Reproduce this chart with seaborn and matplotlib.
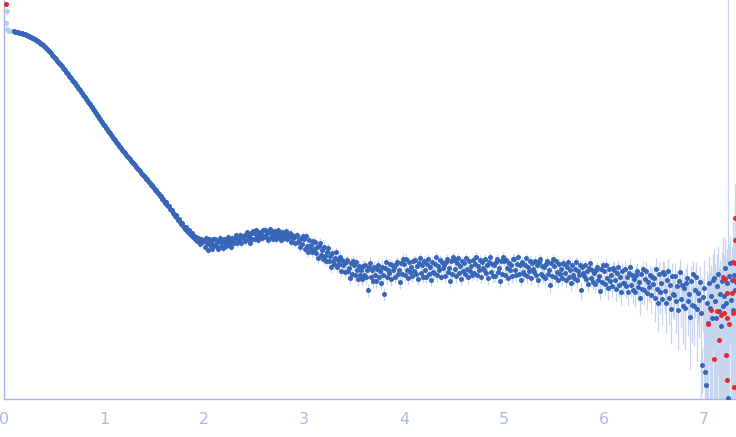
import numpy as np
import pandas as pd
import matplotlib
matplotlib.use("Agg")
import matplotlib.pyplot as plt
import seaborn as sns
from matplotlib.ticker import FixedLocator, NullLocator, NullFormatter

# measured q grid (instrument bins, 0.01 apart from 0.10 to 7.32)
q = np.round(np.arange(10, 733) * 0.01, 2)

# log10 of intensity, one row per 0.1 of q
log_i = [
    -0.01, -0.02, -0.02, -0.02, -0.02, -0.03, -0.03, -0.03, -0.03, -0.04,
    -0.04, -0.04, -0.05, -0.05, -0.06, -0.06, -0.07, -0.07, -0.08, -0.08,
    -0.09, -0.09, -0.10, -0.11, -0.11, -0.12, -0.13, -0.14, -0.14, -0.15,
    -0.16, -0.17, -0.18, -0.19, -0.20, -0.21, -0.22, -0.23, -0.25, -0.26,
    -0.27, -0.28, -0.29, -0.31, -0.32, -0.33, -0.34, -0.35, -0.36, -0.38,
    -0.39, -0.40, -0.42, -0.43, -0.44, -0.46, -0.47, -0.48, -0.50, -0.51,
    -0.52, -0.53, -0.55, -0.56, -0.58, -0.59, -0.60, -0.62, -0.63, -0.65,
    -0.66, -0.67, -0.69, -0.70, -0.72, -0.73, -0.74, -0.76, -0.77, -0.79,
    -0.80, -0.82, -0.83, -0.85, -0.86, -0.88, -0.89, -0.91, -0.92, -0.94,
    -0.95, -0.96, -0.98, -0.99, -1.01, -1.02, -1.03, -1.05, -1.06, -1.08,
    -1.09, -1.10, -1.12, -1.13, -1.14, -1.16, -1.17, -1.18, -1.20, -1.21,
    -1.22, -1.23, -1.25, -1.26, -1.27, -1.28, -1.29, -1.31, -1.32, -1.33,
    -1.34, -1.35, -1.37, -1.38, -1.39, -1.40, -1.41, -1.43, -1.44, -1.45,
    -1.46, -1.47, -1.49, -1.49, -1.51, -1.52, -1.53, -1.55, -1.55, -1.57,
    -1.58, -1.60, -1.60, -1.62, -1.63, -1.64, -1.66, -1.66, -1.69, -1.69,
    -1.71, -1.73, -1.72, -1.75, -1.76, -1.76, -1.79, -1.80, -1.80, -1.83,
    -1.84, -1.86, -1.85, -1.88, -1.90, -1.89, -1.92, -1.94, -1.93, -1.96,
    -1.97, -1.99, -1.97, -2.01, -2.02, -2.00, -2.04, -2.05, -2.03, -2.07,
    -2.06, -2.09, -2.07, -2.11, -2.08, -2.10, -2.14, -2.09, -2.12, -2.11,
    -2.10, -2.17, -2.08, -2.13, -2.20, -2.09, -2.15, -2.12, -2.19, -2.09,
    -2.15, -2.09, -2.16, -2.12, -2.19, -2.11, -2.08, -2.16, -2.12, -2.18,
    -2.09, -2.13, -2.16, -2.10, -2.07, -2.14, -2.11, -2.17, -2.08, -2.12,
    -2.13, -2.08, -2.05, -2.13, -2.09, -2.10, -2.05, -2.13, -2.06, -2.08,
    -2.06, -2.11, -2.04, -2.02, -2.09, -2.06, -2.13, -2.03, -2.09, -2.01,
    -2.03, -2.09, -2.00, -2.06, -2.10, -2.02, -2.07, -2.04, -2.08, -2.00,
    -2.06, -2.00, -2.07, -2.03, -2.10, -2.02, -1.99, -2.07, -2.03, -2.09,
    -2.01, -2.05, -2.09, -2.02, -2.00, -2.07, -2.04, -2.10, -2.02, -2.07,
    -2.08, -2.04, -2.01, -2.09, -2.06, -2.07, -2.03, -2.12, -2.05, -2.08,
    -2.07, -2.13, -2.06, -2.05, -2.12, -2.10, -2.17, -2.08, -2.14, -2.06,
    -2.09, -2.19, -2.06, -2.16, -2.22, -2.10, -2.18, -2.15, -2.22, -2.11,
    -2.19, -2.12, -2.23, -2.17, -2.28, -2.16, -2.13, -2.25, -2.20, -2.29,
    -2.17, -2.26, -2.31, -2.22, -2.18, -2.31, -2.26, -2.37, -2.23, -2.31,
    -2.34, -2.28, -2.22, -2.37, -2.30, -2.34, -2.27, -2.41, -2.30, -2.35,
    -2.33, -2.42, -2.32, -2.30, -2.41, -2.38, -2.48, -2.33, -2.44, -2.31,
    -2.35, -2.45, -2.32, -2.40, -2.49, -2.36, -2.45, -2.40, -2.49, -2.36,
    -2.45, -2.35, -2.47, -2.40, -2.60, -2.37, -2.33, -2.47, -2.40, -2.51,
    -2.37, -2.45, -2.51, -2.39, -2.35, -2.47, -2.41, -2.53, -2.37, -2.45,
    -2.64, -2.38, -2.32, -2.47, -2.40, -2.43, -2.34, -2.49, -2.35, -2.40,
    -2.37, -2.47, -2.34, -2.32, -2.44, -2.40, -2.52, -2.33, -2.44, -2.29,
    -2.34, -2.45, -2.29, -2.40, -2.48, -2.32, -2.42, -2.37, -2.46, -2.31,
    -2.41, -2.30, -2.44, -2.36, -2.49, -2.33, -2.28, -2.43, -2.35, -2.47,
    -2.31, -2.40, -2.47, -2.34, -2.29, -2.44, -2.37, -2.50, -2.32, -2.42,
    -2.43, -2.34, -2.27, -2.45, -2.36, -2.40, -2.30, -2.47, -2.32, -2.38,
    -2.35, -2.46, -2.32, -2.29, -2.42, -2.38, -2.51, -2.31, -2.44, -2.27,
    -2.30, -2.39, -2.46, -2.33, -2.28, -2.43, -2.36, -2.49, -2.31, -2.41,
    -2.33, -2.44, -2.28, -2.39, -2.47, -2.31, -2.41, -2.36, -2.45, -2.30,
    -2.43, -2.34, -2.27, -2.45, -2.36, -2.40, -2.30, -2.47, -2.32, -2.38,
    -2.40, -2.29, -2.43, -2.35, -2.48, -2.32, -2.27, -2.42, -2.34, -2.46,
    -2.35, -2.46, -2.32, -2.29, -2.42, -2.38, -2.51, -2.31, -2.44, -2.27,
    -2.31, -2.45, -2.30, -2.38, -2.48, -2.33, -2.40, -2.35, -2.46, -2.29,
    -2.29, -2.40, -2.45, -2.34, -2.27, -2.44, -2.35, -2.50, -2.32, -2.42,
    -2.44, -2.35, -2.28, -2.46, -2.37, -2.41, -2.31, -2.48, -2.33, -2.39,
    -2.42, -2.31, -2.45, -2.35, -2.50, -2.32, -2.29, -2.44, -2.36, -2.46,
    -2.37, -2.48, -2.34, -2.31, -2.44, -2.40, -2.55, -2.33, -2.46, -2.29,
    -2.36, -2.47, -2.31, -2.42, -2.50, -2.34, -2.44, -2.39, -2.48, -2.33,
    -2.34, -2.43, -2.50, -2.37, -2.32, -2.47, -2.40, -2.53, -2.35, -2.45,
    -2.48, -2.39, -2.32, -2.50, -2.41, -2.45, -2.35, -2.60, -2.37, -2.43,
    -2.46, -2.35, -2.49, -2.41, -2.54, -2.38, -2.33, -2.48, -2.40, -2.52,
    -2.43, -2.54, -2.40, -2.37, -2.50, -2.46, -2.61, -2.39, -2.52, -2.35,
    -2.41, -2.54, -2.35, -2.48, -2.58, -2.39, -2.51, -2.45, -2.56, -2.38,
    -2.40, -2.50, -2.59, -2.43, -2.37, -2.55, -2.47, -2.62, -2.41, -2.53,
    -2.53, -2.39, -2.56, -2.47, -2.62, -2.43, -2.37, -2.55, -2.45, -2.60,
    -2.49, -2.62, -2.45, -2.41, -2.57, -2.52, -2.68, -2.44, -2.59, -2.39,
    -2.60, -2.49, -2.41, -2.63, -2.52, -2.57, -2.45, -2.65, -2.47, -2.54,
    -2.48, -2.68, -2.39, -2.59, -2.73, -2.44, -2.62, -2.53, -2.69, -2.42,
    -2.44, -2.61, -2.73, -2.50, -2.41, -2.68, -2.55, -2.79, -2.46, -2.64,
    -2.65, -2.46, -2.71, -2.56, -2.80, -2.51, -2.42, -2.69, -2.55, -2.76,
    -2.58, -2.78, -2.53, -2.48, -2.71, -2.64, -2.87, -2.51, -2.75, -2.44,
    -2.76, -2.60, -2.47, -2.79, -2.63, -2.70, -2.52, -2.83, -3.35, -2.67,
    -2.58, -3.42, -3.55, -2.73, -2.93, -2.53, -2.78, -2.66, -2.88, -2.50,
    -2.48, -2.71, -2.88, -2.56, -2.44, -2.81, -2.64, -2.96, -2.51, -2.76,
    -2.66, -2.38, -2.73, -2.53, -3.68, -2.46, -2.33, -2.70, -2.50, -2.80,
    -2.45, -2.60, -2.52,
]

# relative error of each point, percent
err_pct = [
    1, 1, 1, 1, 1, 1, 1, 1, 1, 1,
    1, 1, 1, 1, 1, 1, 1, 1, 1, 1,
    1, 1, 1, 1, 1, 1, 1, 1, 1, 1,
    1, 1, 1, 1, 1, 1, 1, 1, 1, 1,
    1, 1, 1, 1, 1, 1, 1, 1, 1, 1,
    1, 1, 1, 1, 1, 1, 1, 1, 1, 1,
    1, 1, 1, 1, 1, 1, 1, 1, 1, 1,
    1, 1, 1, 1, 1, 1, 1, 1, 1, 1,
    1, 1, 1, 1, 1, 1, 1, 1, 1, 1,
    1, 1, 1, 1, 1, 2, 2, 2, 2, 2,
    2, 2, 2, 2, 2, 2, 2, 2, 2, 2,
    2, 2, 2, 2, 2, 2, 2, 2, 2, 2,
    2, 2, 2, 2, 2, 2, 2, 2, 2, 2,
    2, 2, 2, 3, 2, 3, 3, 3, 3, 3,
    3, 3, 3, 3, 3, 3, 3, 3, 3, 3,
    3, 4, 3, 4, 4, 3, 4, 4, 4, 4,
    4, 5, 4, 5, 5, 4, 5, 5, 5, 5,
    5, 6, 5, 6, 6, 5, 6, 6, 6, 6,
    6, 7, 6, 7, 7, 6, 7, 7, 7, 7,
    7, 8, 7, 8, 8, 7, 8, 8, 7, 8,
    8, 7, 9, 8, 7, 8, 9, 7, 8, 8,
    7, 8, 8, 9, 7, 8, 8, 7, 9, 8,
    8, 7, 8, 9, 8, 7, 8, 9, 8, 7,
    8, 9, 7, 8, 8, 9, 7, 8, 9, 8,
    9, 8, 7, 8, 9, 8, 8, 7, 9, 8,
    8, 9, 8, 7, 8, 9, 8, 8, 9, 7,
    8, 8, 9, 8, 7, 9, 8, 8, 9, 8,
    9, 8, 8, 9, 8, 9, 8, 9, 8, 9,
    9, 8, 9, 9, 8, 9, 10, 9, 8, 9,
    9, 10, 9, 10, 10, 9, 10, 11, 10, 10,
    10, 11, 10, 11, 12, 10, 11, 12, 11, 11,
    11, 12, 11, 12, 13, 11, 12, 13, 12, 12,
    12, 13, 12, 13, 12, 14, 12, 13, 14, 12,
    13, 12, 14, 13, 12, 14, 13, 15, 13, 14,
    12, 14, 13, 12, 14, 13, 12, 15, 13, 14,
    13, 12, 14, 13, 15, 13, 16, 14, 13, 14,
    14, 13, 15, 14, 13, 15, 14, 13, 18, 14,
    14, 13, 12, 14, 13, 15, 12, 14, 13, 12,
    12, 13, 14, 12, 13, 12, 15, 13, 12, 14,
    12, 13, 11, 12, 14, 12, 13, 11, 12, 13,
    13, 12, 14, 12, 13, 11, 12, 14, 12, 13,
    11, 12, 13, 12, 11, 14, 12, 13, 12, 11,
    13, 12, 11, 14, 12, 13, 12, 11, 13, 12,
    12, 14, 12, 11, 13, 12, 15, 11, 13, 12,
    11, 12, 14, 12, 11, 13, 12, 14, 11, 12,
    12, 13, 11, 12, 14, 11, 13, 12, 13, 11,
    13, 12, 11, 13, 12, 14, 11, 13, 12, 12,
    12, 11, 13, 12, 14, 12, 11, 13, 12, 14,
    12, 13, 12, 11, 13, 12, 15, 11, 13, 11,
    11, 13, 12, 12, 14, 12, 13, 11, 14, 12,
    12, 13, 14, 12, 11, 13, 12, 15, 12, 13,
    13, 12, 11, 14, 12, 13, 12, 14, 12, 13,
    13, 12, 14, 12, 15, 12, 11, 13, 12, 14,
    12, 14, 12, 11, 13, 12, 16, 12, 14, 11,
    13, 15, 12, 14, 16, 13, 15, 14, 16, 12,
    13, 14, 16, 13, 12, 15, 14, 17, 13, 15,
    15, 14, 13, 16, 14, 15, 13, 19, 14, 15,
    15, 13, 16, 14, 17, 14, 13, 16, 14, 17,
    15, 18, 14, 13, 16, 15, 19, 14, 17, 13,
    18, 22, 17, 19, 24, 18, 21, 20, 23, 18,
    19, 21, 25, 20, 18, 24, 21, 26, 19, 23,
    24, 20, 25, 22, 28, 21, 19, 25, 22, 27,
    24, 30, 23, 21, 28, 26, 33, 22, 29, 21,
    30, 26, 23, 32, 27, 29, 25, 34, 26, 28,
    32, 42, 30, 36, 48, 31, 40, 35, 45, 30,
    33, 40, 50, 36, 31, 46, 38, 55, 34, 42,
    44, 35, 52, 40, 60, 37, 34, 48, 39, 58,
    42, 62, 40, 38, 55, 48, 70, 40, 58, 36,
    60, 48, 40, 70, 52, 58, 44, 120, 48, 55,
    90, 400, 500, 110, 160, 85, 130, 100, 180, 80,
    100, 140, 200, 110, 90, 170, 120, 250, 95, 150,
    150, 90, 180, 120, 1000000, 110, 85, 160, 120, 200,
    140, 180, 160,
]

# points flagged as outliers (drawn red)
q_out = [0.02, 7.04, 7.07, 7.10, 7.13, 7.15, 7.17, 7.19, 7.20, 7.21, 7.22,
         7.23, 7.23, 7.23, 7.25, 7.28, 7.29, 7.29, 7.30, 7.30, 7.31, 7.31, 7.31]
log_i_out = [0.26, -2.94, -2.80, -3.29, -2.81, -3.10, -2.85, -2.47, -2.83, -2.49, -3.25,
             -2.88, -2.63, -3.50, -2.94, -2.63, -2.32, -2.83, -3.57, -2.50, -2.10, -1.88, -2.33]
err_out_pct = [5, 200, 180, 260, 170, 220, 190, 150, 200, 160, 280,
               210, 170, 300, 230, 180, 150, 220, 320, 170, 140, 120, 160]

# first points before the fitted range (drawn pale)
q_pale = [0.02, 0.03, 0.03, 0.04, 0.05, 0.06, 0.07, 0.08]
log_i_pale = [0.07, 0.19, 0.01, -0.005, -0.01, -0.01, -0.01, -0.015]
err_pale_pct = [6, 8, 5, 4, 3, 2, 2, 2]

blue = "#3766b8"
red = "#e8282c"
pale = "#b9cbec"
err_col = "#c7d5ee"
axis_col = "#a3b6e0"
label_col = "#a9bce4"


def frame(qs, logs, errs):
    inten = 10.0 ** np.asarray(logs, dtype=float)
    rel = np.asarray(errs, dtype=float) / 100.0
    lo = np.maximum(inten * (1 - rel), 1e-8)
    hi = inten * (1 + rel)
    return pd.DataFrame({"q": qs, "I": inten, "lo": lo, "hi": hi})


main = frame(q, log_i, err_pct)
outl = frame(q_out, log_i_out, err_out_pct)
first = frame(q_pale, log_i_pale, err_pale_pct)

sns.set_style("white")
fig = plt.figure(figsize=(7.36, 4.37), dpi=100)
ax = fig.add_axes([4 / 736, 38 / 437, 732 / 736, 399 / 437])
ax.set_yscale("log")

# error bars behind the markers
for d in (main, outl, first):
    ax.vlines(d["q"], d["lo"], d["hi"], color=err_col, lw=0.9, zorder=1)

sns.scatterplot(data=first, x="q", y="I", color=pale, s=13, linewidth=0, ax=ax, zorder=2)
sns.scatterplot(data=main, x="q", y="I", color=blue, s=13, linewidth=0, ax=ax, zorder=3)
sns.scatterplot(data=outl, x="q", y="I", color=red, s=13, linewidth=0, ax=ax, zorder=4)

ax.set_xlim(0, 7.32)
ax.set_ylim(10 ** -3.69, 10 ** 0.30)
ax.set_xlabel("")
ax.set_ylabel("")

ax.xaxis.set_major_locator(FixedLocator(range(0, 8)))
ax.xaxis.set_minor_locator(NullLocator())
ax.yaxis.set_major_locator(FixedLocator([1e-3, 1e-2, 1e-1, 1]))
ax.yaxis.set_minor_locator(NullLocator())
ax.yaxis.set_major_formatter(NullFormatter())
ax.tick_params(axis="both", direction="in", length=7, width=1, color=axis_col,
               labelcolor=label_col, labelsize=11.5, pad=9)

for side in ("top", "right"):
    ax.spines[side].set_visible(False)
for side in ("left", "bottom"):
    ax.spines[side].set_color(axis_col)
    ax.spines[side].set_linewidth(1)

fig.savefig("out.png", dpi=100)
